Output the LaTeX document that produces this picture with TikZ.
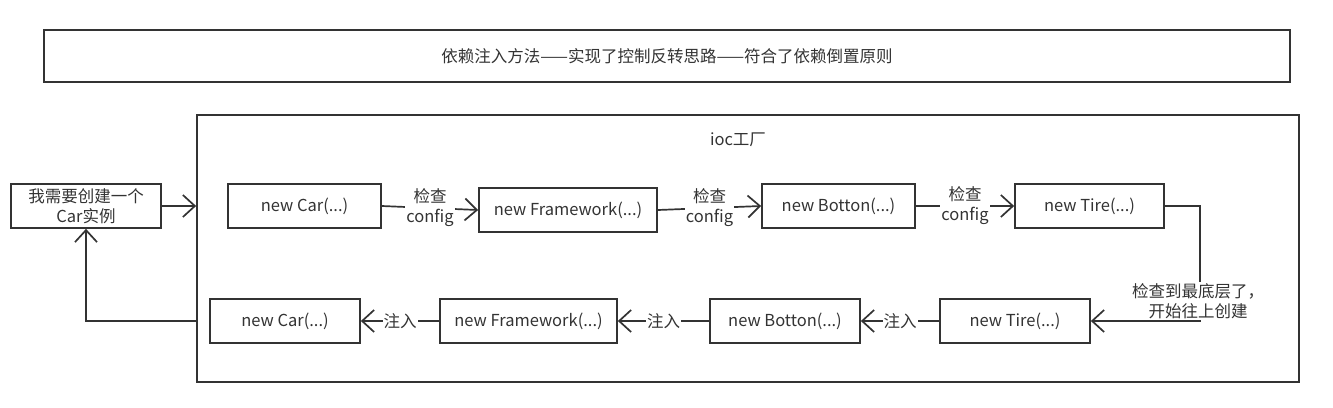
\documentclass[tikz,border=0pt]{standalone}
\usepackage{fontspec}
\setmainfont{Noto Sans CJK SC}
\usetikzlibrary{arrows.meta}

\definecolor{ink}{HTML}{333333}

\begin{document}
\begin{tikzpicture}[x=1pt,y=-1pt,
  box/.style={draw=ink, line width=1.7pt, minimum width=150pt, minimum height=44pt,
    inner sep=0pt, text=ink, font=\fontsize{16.5}{20}\selectfont, align=center},
  link/.style={draw=ink, line width=1.7pt, -{Straight Barb[length=12pt,width=22pt,line width=1.7pt]}},
  lbl/.style={fill=white, inner sep=1pt, text=ink, align=center, font=\fontsize{16.5}{20}\selectfont}]
  \useasboundingbox (0,0) rectangle (1333,407);

  % Titre
  \node[box, minimum width=1246pt, minimum height=52pt] (title) at (667,56)
    {依赖注入方法——实现了控制反转思路——符合了依赖倒置原则};

  % Usine ioc
  \node[box, minimum width=1102pt, minimum height=267pt] (ioc) at (748,248.5) {};
  \node[text=ink, font=\fontsize{16.5}{20}\selectfont] (ioclbl) at (738,140) {ioc工厂};

  % Demande
  \node[box] (need) at (86,206) {我需要创建一个\\Car实例};

  % Ligne du haut : verification
  \node[box, minimum width=153pt] (car1) at (304.5,206) {new Car(...)};
  \node[box, minimum width=178pt] (fw1) at (568,210) {new Framework(...)};
  \node[box, minimum width=153pt] (bot1) at (838.5,206) {new Botton(...)};
  \node[box, minimum width=149pt] (tire1) at (1089.5,206) {new Tire(...)};

  % Ligne du bas : injection
  \node[box] (car2) at (285,321) {new Car(...)};
  \node[box, minimum width=177pt] (fw2) at (528.5,321) {new Framework(...)};
  \node[box] (bot2) at (785,321) {new Botton(...)};
  \node[box] (tire2) at (1015,321) {new Tire(...)};

  \draw[link] (car1.east) -- node[lbl] {检查\\config} (fw1.west);
  \draw[link] (fw1.east) -- node[lbl] {检查\\config} (bot1.west);
  \draw[link] (bot1.east) -- node[lbl] {检查\\config} (tire1.west);

  \coordinate (bend) at (1200,321);
  \draw[link] (tire1.east) -| (bend) -- (tire2.east);
  \node[lbl] (bottom) at (1198,301) {检查到最底层了，\\开始往上创建};

  \draw[link] (tire2) -- node[lbl] {注入} (bot2);
  \draw[link] (bot2) -- node[lbl] {注入} (fw2);
  \draw[link] (fw2) -- node[lbl] {注入} (car2);

  % Entree et retour
  \draw[link] (need.east) -- (need.east -| ioc.west);
  \draw[link] (ioc.west |- car2) -| (need.south);
\end{tikzpicture}
\end{document}
